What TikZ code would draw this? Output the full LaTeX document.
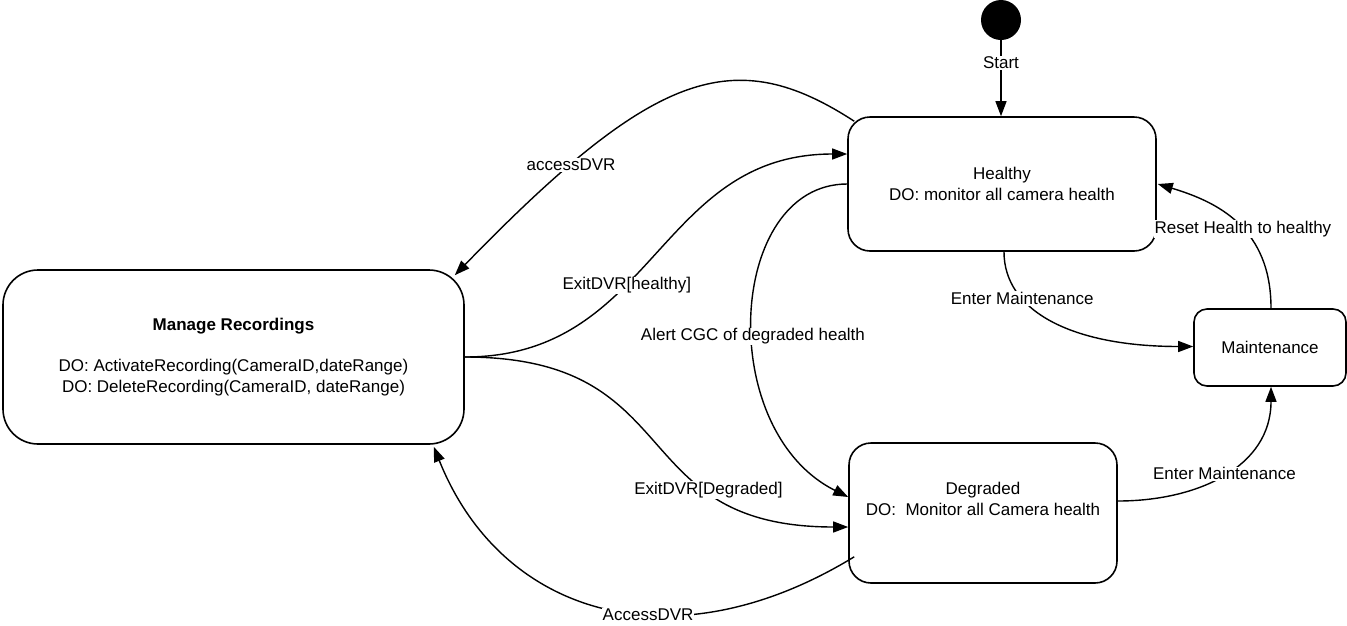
\documentclass[tikz,border=0pt]{standalone}
\usepackage{fontspec}
\setmainfont{Liberation Sans}
\usetikzlibrary{arrows.meta,calc}

\begin{document}
\begin{tikzpicture}[x=1pt,y=-1pt,
  every node/.style={font=\fontsize{17}{20.5}\selectfont},
  state/.style={draw, line width=1.6pt, rounded corners=#1, inner sep=0pt, align=center},
  state/.default=22pt,
  trans/.style={line width=1.4pt, -{Triangle[length=15pt,width=11pt]}},
  lbl/.style={fill=white, inner sep=1pt},
]
\useasboundingbox (0,0) rectangle (1347,625);

% states
\node[circle, fill=black, minimum size=40pt, inner sep=0pt] (init) at (1001,20) {};
\node[state, minimum width=308pt, minimum height=134pt] (healthy) at (1002,184)
  {Healthy\\DO: monitor all camera health};
\node[state=35pt, minimum width=461pt, minimum height=174pt] (mr) at (233.5,357)
  {\textbf{Manage Recordings}\\[20.5pt]DO: ActivateRecording(CameraID,dateRange)\\DO: DeleteRecording(CameraID, dateRange)};
\node[state, minimum width=268pt, minimum height=140pt] (degraded) at (983,513) {};
\node[align=center] (degradedtext) at (983,499) {Degraded\\DO:\ \ Monitor all Camera health};
\node[state=13pt, minimum width=152pt, minimum height=77pt] (maint) at (1270,347.5) {Maintenance};

% transitions
\draw[trans] (init.south) -- node[lbl, pos=0.3] {Start} (init.south |- healthy.north);

\draw[trans] ($(healthy.north west)+(7,5)$) .. controls +(-120,-78) and +(200,-206) ..
  ($(mr.north east)+(-10,6)$) node[lbl, pos=0.78] {accessDVR};

\draw[trans] (mr.east) .. controls +(190,0) and +(-190,0) ..
  ($(healthy.west)+(0,-30)$) node[lbl, pos=0.4] {ExitDVR[healthy]};

\draw[trans] (mr.east) .. controls +(226,0) and +(-226,0) ..
  ($(degraded.west)+(0,14)$) node[lbl, pos=0.7] {ExitDVR[Degraded]};

\draw[trans] (healthy.west) .. controls +(-120,0) and +(-134,-67) ..
  ($(degraded.west)+(0,-16)$) node[lbl, pos=0.55] {Alert CGC of degraded health};

\draw[trans] ($(degraded.south west)+(6,-27)$) .. controls +(-180,110) and +(68,170) ..
  ($(mr.south east)+(-31,2)$) node[lbl, pos=0.4] {AccessDVR};

\draw[trans] ($(healthy.south)+(2,0)$) .. controls +(0,60) and +(-120,0) ..
  ($(maint.west)+(0,-1)$) node[lbl, pos=0.3] {Enter Maintenance};

\draw[trans] ($(maint.north)+(1,0)$) .. controls +(0,-80) and +(60,18) ..
  ($(healthy.east)+(1,0)$) node[lbl, pos=0.45] {Reset Health to healthy};

\draw[trans] ($(degraded.east)+(0,-12)$) .. controls +(80,0) and +(0,80) ..
  ($(maint.south)+(1,0)$) node[lbl, pos=0.5] {Enter Maintenance};
\end{tikzpicture}
\end{document}
